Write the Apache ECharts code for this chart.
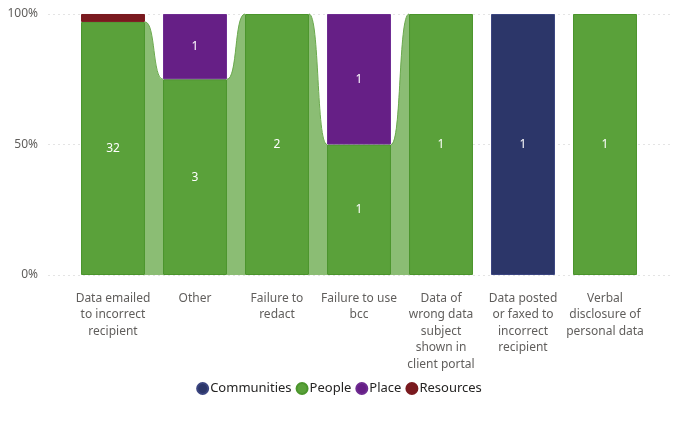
<!DOCTYPE html>
<html>
<head>
<meta charset="utf-8">
<script src="https://cdn.jsdelivr.net/npm/echarts@6/dist/echarts.min.js"></script>
<style>
html,body{margin:0;padding:0;background:#fff;}
#chart{width:678px;height:426px;}
</style>
</head>
<body>
<div id="chart"></div>
<script>
var categories = [
  'Data emailed to incorrect recipient',
  'Other',
  'Failure to redact',
  'Failure to use bcc',
  'Data of wrong data subject shown in client portal',
  'Data posted or faxed to incorrect recipient',
  'Verbal disclosure of personal data'
];
var tickLabels = [
  'Data emailed\nto incorrect\nrecipient',
  'Other',
  'Failure to\nredact',
  'Failure to use\nbcc',
  'Data of\nwrong data\nsubject\nshown in\nclient portal',
  'Data posted\nor faxed to\nincorrect\nrecipient',
  'Verbal\ndisclosure of\npersonal data'
];
var communities = [null, null, null, null, null, 1, null];
var people      = [32, 3, 2, 1, 1, null, 1];
var place       = [null, 1, null, 1, null, null, null];
var resources   = [1, null, null, null, null, null, null];
var yTicks = [0, 50, 100];

var seriesNames = ['Communities', 'People', 'Place', 'Resources'];
var seriesColors = ['#2c3669', '#5aa13a', '#661f86', '#7a1a1f'];
var seriesBorders = ['#3b4580', '#4b952c', '#6e2b91', '#7a1a1f'];
var counts = [communities, people, place, resources];

var totals = categories.map(function (c, i) {
  var s = 0;
  counts.forEach(function (arr) { if (arr[i] != null) s += arr[i]; });
  return s;
});
function pct(arr) {
  return arr.map(function (v, i) { return v == null ? null : v / totals[i] * 100; });
}

var font = "'Segoe UI','Noto Sans',sans-serif";

// stack order bottom -> top: People, Place, Resources, Communities
var stackOrder = [1, 2, 3, 0];
var barSeries = stackOrder.map(function (k) {
  var arr = counts[k];
  return {
    name: seriesNames[k],
    type: 'bar',
    stack: 'total',
    xAxisIndex: 1,
    yAxisIndex: 1,
    barWidth: '78%',
    data: pct(arr),
    itemStyle: { color: seriesColors[k], borderColor: seriesBorders[k], borderWidth: 1 },
    label: {
      show: true,
      position: 'inside',
      color: '#ffffff',
      fontSize: 12,
      fontFamily: font,
      formatter: function (p) {
        var v = arr[p.dataIndex];
        if (v == null || p.value < 8) return '';
        return String(v);
      }
    },
    z: 3
  };
});

// ribbons for People between adjacent categories
var peoplePct = pct(people);
var ribbonData = [];
for (var i = 0; i < categories.length - 1; i++) {
  if (peoplePct[i] != null && peoplePct[i + 1] != null) {
    ribbonData.push([i, peoplePct[i], peoplePct[i + 1]]);
  }
}

var ribbonSeries = {
  name: 'People',
  type: 'custom',
  xAxisIndex: 1,
  yAxisIndex: 1,
  silent: true,
  z: 2,
  data: ribbonData,
  renderItem: function (params, api) {
    var idx = api.value(0);
    var band = api.size([1, 0])[0];
    var bw = band * 0.78;
    var p0 = api.coord([idx, 0]);
    var p1 = api.coord([idx + 1, 0]);
    var x1 = p0[0] + bw / 2;
    var x2 = p1[0] - bw / 2;
    var yb = p0[1];
    var yt1 = api.coord([idx, api.value(1)])[1];
    var yt2 = api.coord([idx + 1, api.value(2)])[1];
    var w = x2 - x1;
    var cx1 = x1 + w * 0.6, cx2 = x2 - w * 0.6;
    var fillPath = 'M' + x1 + ',' + yb + ' L' + x1 + ',' + yt1 +
      ' C' + cx1 + ',' + yt1 + ' ' + cx2 + ',' + yt2 + ' ' + x2 + ',' + yt2 +
      ' L' + x2 + ',' + yb + ' Z';
    var linePath = 'M' + x1 + ',' + yt1 +
      ' C' + cx1 + ',' + yt1 + ' ' + cx2 + ',' + yt2 + ' ' + x2 + ',' + yt2;
    return {
      type: 'group',
      children: [
        { type: 'path', shape: { pathData: fillPath }, style: { fill: '#8bbd74', stroke: null } },
        { type: 'path', shape: { pathData: linePath }, style: { fill: null, stroke: '#6aa94d', lineWidth: 1 } }
      ]
    };
  }
};

var chart = echarts.init(document.getElementById('chart'));
chart.setOption({
  animation: false,
  textStyle: { fontFamily: font },
  grid: [
    { left: 48, right: 5, top: 14, bottom: 151 },
    { left: 72, right: 32, top: 14, bottom: 151 }
  ],
  legend: {
    data: seriesNames.map(function (n, k) { return { name: n, itemStyle: { color: seriesColors[k] } }; }),
    bottom: 26,
    left: 'center',
    icon: 'circle',
    itemWidth: 11,
    itemHeight: 11,
    itemGap: 4,
    textStyle: { color: '#252423', fontSize: 13, fontFamily: font, padding: [0, 0, 0, -3] }
  },
  xAxis: [
    { type: 'value', gridIndex: 0, show: false, min: 0, max: 1 },
    {
      type: 'category', gridIndex: 1, data: categories,
      axisLine: { show: false }, axisTick: { show: false },
      axisLabel: {
        color: '#605e5c', fontSize: 12, fontFamily: font, lineHeight: 16.5,
        margin: 15, interval: 0,
        formatter: function (v, i) { return tickLabels[i]; }
      }
    }
  ],
  yAxis: [
    {
      type: 'value', gridIndex: 0, min: yTicks[0], max: yTicks[yTicks.length - 1], interval: 50,
      axisLine: { show: false }, axisTick: { show: false },
      axisLabel: { color: '#605e5c', fontSize: 12, fontFamily: font, margin: 10, formatter: '{value}%' },
      splitLine: { show: true, lineStyle: { color: '#e4e4e4', type: [2, 3], width: 1 } }
    },
    {
      type: 'value', gridIndex: 1, min: 0, max: 100, interval: 50, show: false,
      splitLine: { show: false }
    }
  ],
  series: barSeries.concat([ribbonSeries])
});
</script>
</body>
</html>
